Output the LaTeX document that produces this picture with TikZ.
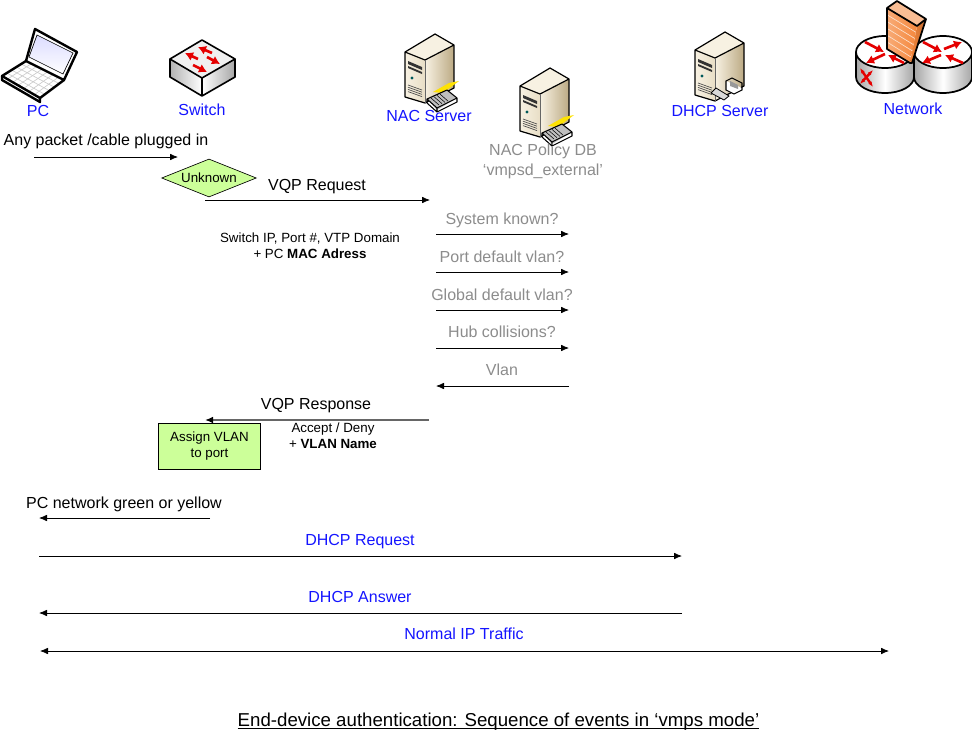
\documentclass[tikz,border=0pt]{standalone}
\usepackage{fontspec}
\setmainfont{Liberation Sans}
\usetikzlibrary{arrows.meta,shapes.geometric}
\definecolor{labelblue}{RGB}{20,20,255}
\definecolor{labelgrey}{RGB}{140,140,140}
\definecolor{notegreen}{RGB}{204,255,153}
\definecolor{servlight}{RGB}{247,241,226}
\definecolor{servmid}{RGB}{232,222,198}
\definecolor{servdark}{RGB}{188,170,132}
\definecolor{brick}{RGB}{245,135,60}
\tikzset{
  lbl/.style={font=\fontsize{12pt}{14pt}\selectfont,inner sep=0pt,align=center},
  lblblue/.style={lbl,text=labelblue},
  lblgrey/.style={lbl,text=labelgrey},
  small/.style={font=\fontsize{10pt}{12pt}\selectfont,inner sep=0pt,align=center},
  msg/.style={-{Latex[length=6pt,width=5pt]},line width=.6pt,black},
  redarrow/.style={-{Latex[length=6pt,width=7pt]},line width=2pt,red!90!black},
  tower/.pic={
    \fill[servlight] (-30,18) -- (0,0) -- (19,11) -- (-10,26) -- cycle;
    \shade[left color=servlight,right color=servmid] (-30,18) -- (-10,26) -- (-10,69) -- (-30,63) -- cycle;
    \shade[left color=servlight,right color=servdark] (-10,26) -- (19,11) -- (19,54) -- (-10,69) -- cycle;
    \draw[line width=.9pt,line join=round] (-30,18) -- (0,0) -- (19,11) -- (19,54) -- (-10,69) -- (-30,63) -- cycle (-30,18) -- (-10,26) -- (19,11);
    \draw[line width=.4pt,black!60] (-10,26) -- (-10,69);
    \fill[black!80] (-27,27) -- (-13,33) -- (-13,36) -- (-27,30) -- cycle (-27,32) -- (-13,38) -- (-13,40) -- (-27,34) -- cycle;
    \fill[teal!70!black] (-23,44) circle (1.6);
    \foreach \i in {0,1,2,3}
      \draw[line width=.5pt,black!70] (-27,51+2.2*\i) -- (-13,56+2.2*\i);
  },
  drive/.pic={
    \fill[yellow!85!orange] (-2,-7) -- (14,-16) -- (24,-18) -- (8,-6) -- cycle;
    \fill[black!25] (-8,0) -- (12,-9) -- (22,-1) -- (2,11) -- cycle;
    \draw[line width=.8pt,line join=round] (-8,0) -- (12,-9) -- (22,-1) -- (22,3) -- (2,13) -- (-8,4) -- cycle (-8,0) -- (2,9) -- (22,-1) (2,9) -- (2,13);
    \foreach \i in {0,1,2,3}
      \draw[line width=.4pt] (-4+3*\i,-1-1.3*\i) -- (4+3*\i,6-1.3*\i);
  },
  rtr/.pic={
    \shade[left color=black!35,right color=black!35,middle color=white] (-29,0) -- (-29,25) arc (180:0:29 and 16) -- (29,0) -- cycle;
    \fill[white] (0,0) ellipse (29 and 16);
    \draw[line width=1.3pt] (-29,0) -- (-29,25) arc (180:0:29 and 16) -- (29,0);
    \draw[line width=1.3pt] (0,0) ellipse (29 and 16);
  }
}
\begin{document}
\begin{tikzpicture}[x=.75pt,y=-.75pt]
\useasboundingbox (0,0) rectangle (972,732);

% laptop
\fill[white] (26,61) -- (1,76) -- (40,98) -- (64,80) -- cycle;
\foreach \i in {1,2,3,4}
  \draw[black!20,line width=.5pt] (26-4.8*\i,61+3*\i) -- (64-4.8*\i,80+3.6*\i);
\foreach \i in {1,2,3,4,5,6}
  \draw[black!20,line width=.5pt] (26+5.4*\i,61+2.7*\i) -- (2+5.4*\i,76+3.1*\i);
\draw[line width=1.8pt,line join=round] (26,61) -- (35,29) -- (77,52) -- (64,80) -- cycle;
\shade[top color=blue!14,bottom color=white,draw=black,line width=.5pt] (37,35) -- (73,53) -- (63,74) -- (29,57) -- cycle;
\draw[line width=1.8pt,line join=round] (26,61) -- (2,76) -- (40,98) -- (64,80);
\draw[line width=1.8pt,line join=round] (2,76) -- (2,80) -- (40,102) -- (40,98);
\node[lblblue] (pc) at (38,111) {PC};

% switch
\shade[left color=black!30,right color=white] (170,59) -- (202,78) -- (202,96) -- (170,77) -- cycle;
\shade[left color=white,right color=black!35] (202,78) -- (235,59) -- (235,77) -- (202,96) -- cycle;
\fill[black!6] (202,40) -- (235,59) -- (202,78) -- (170,59) -- cycle;
\draw[line width=1.2pt,line join=round] (202,40) -- (235,59) -- (235,77) -- (202,96) -- (170,77) -- (170,59) -- cycle (170,59) -- (202,78) -- (235,59) (202,78) -- (202,96);
\draw[redarrow] (212,53) -- (198,47);
\draw[redarrow] (198,59) -- (185,53);
\draw[redarrow] (207,57) -- (220,64);
\draw[redarrow] (193,65) -- (207,72);
\node[lblblue] (switch) at (202,110) {Switch};

% servers
\pic at (435,34) {tower};
\pic at (435,99) {drive};
\node[lblblue] (nac) at (429,116) {NAC Server};
\pic at (550,68) {tower};
\pic at (550,133) {drive};
\node[lblgrey] (policy) at (543,161) {NAC Policy DB\\[1pt]‘vmpsd\_external’};
\pic at (725,32) {tower};
% small pc beside the dhcp tower
\fill[black!15] (716,88) -- (729,96) -- (724,100) -- (711,93) -- cycle;
\draw[line width=.6pt] (716,88) -- (729,96) -- (724,100) -- (711,93) -- cycle;
\fill[white] (726,81) -- (742,88) -- (736,95) -- (726,91) -- cycle;
\draw[line width=.8pt] (726,81) -- (732,78) -- (742,83) -- (742,90) -- (734,94) -- (726,90) -- cycle;
\fill[black!40] (730,81) -- (738,85) -- (738,89) -- (730,86) -- cycle;
\node[lblblue] (dhcp) at (720,111) {DHCP Server};

% network
\pic at (885,52) {rtr};
\pic at (943,52) {rtr};
\draw[redarrow] (865,42) -- (884,52);
\draw[redarrow] (885,54) -- (866,63);
\draw[redarrow] (904,63) -- (888,55);
\draw[redarrow] (923,42) -- (942,52);
\draw[redarrow] (944,49) -- (962,42);
\draw[redarrow] (963,63) -- (945,55);
\draw[redarrow] (941,55) -- (922,63);
\draw[red!90!black,line width=1.8pt,{Latex[length=4pt]}-{Latex[length=4pt]}] (860,68) -- (873,87);
\draw[red!90!black,line width=1.8pt,{Latex[length=4pt]}-{Latex[length=4pt]}] (873,70) -- (860,84);
\fill[brick!55!white] (887,8) -- (897,1) -- (926,19) -- (917,26) -- cycle;
\shade[left color=brick,right color=brick!80!black] (917,26) -- (926,19) -- (912,63) -- (910,63) -- cycle;
\shade[left color=brick!70!white,right color=brick] (887,8) -- (917,26) -- (910,63) -- (887,49) -- cycle;
\foreach \i in {1,2,3,4,5}
  \draw[white!75!brick,line width=.5pt] (887,8+6.8*\i) -- (917-1.2*\i,26+6.2*\i);
\draw[line width=1.3pt,line join=round] (887,8) -- (897,1) -- (926,19) -- (912,63) -- (910,63) -- (887,49) -- cycle (887,8) -- (917,26) -- (926,19);
\node[lblblue] (net) at (913,109) {Network};

% first exchange
\node[lbl] (plug) at (106,141) {Any packet /cable plugged in};
\coordinate (plugA) at (34,157);
\coordinate (plugB) at (178,157);
\draw[msg] (plugA) -- (plugB);
\node[diamond,draw=black,fill=notegreen,line width=.5pt,minimum width=71pt,minimum height=28.5pt,inner sep=0pt,aspect=2.5,font=\fontsize{10pt}{12pt}\selectfont] (unknown) at (209,178) {Unknown};
\node[lbl] (vqpreq) at (317,187) {VQP Request};
\coordinate (reqA) at (205,200);
\coordinate (reqB) at (430,200);
\draw[msg] (reqA) -- (reqB);
\node[small] (reqnote) at (310,246) {Switch IP, Port \#, VTP Domain\\+ PC \textbf{MAC Adress}};

% policy lookups
\node[lblgrey] (known) at (502,220) {System known?};
\coordinate (knownA) at (436,234);
\coordinate (knownB) at (569,234);
\draw[msg] (knownA) -- (knownB);
\node[lblgrey] (portvlan) at (502,257) {Port default vlan?};
\coordinate (portA) at (436,272);
\coordinate (portB) at (569,272);
\draw[msg] (portA) -- (portB);
\node[lblgrey] (globvlan) at (502,295) {Global default vlan?};
\coordinate (globA) at (436,310);
\coordinate (globB) at (569,310);
\draw[msg] (globA) -- (globB);
\node[lblgrey] (hub) at (502,332) {Hub collisions?};
\coordinate (hubA) at (436,348);
\coordinate (hubB) at (569,348);
\draw[msg] (hubA) -- (hubB);
\node[lblgrey] (vlan) at (502,370) {Vlan};
\coordinate (vlanA) at (569,386);
\coordinate (vlanB) at (436,386);
\draw[msg] (vlanA) -- (vlanB);

% response
\node[lbl] (vqpresp) at (316,406) {VQP Response};
\coordinate (respA) at (429,420);
\coordinate (respB) at (205,420);
\draw[-{Latex[length=6pt,width=5pt,black]},black!60,line width=1.1pt] (respA) -- (respB);
\node[small] (respnote) at (333,436) {Accept / Deny\\+ \textbf{VLAN Name}};
\node[draw=black,fill=notegreen,line width=.7pt,minimum width=77pt,minimum height=34.5pt,inner sep=0pt,align=center,font=\fontsize{10pt}{12pt}\selectfont] (assign) at (209.5,446) {Assign VLAN\\to port};

% end device traffic
\node[lbl] (green) at (124,504) {PC network green or yellow};
\coordinate (greenA) at (210,518);
\coordinate (greenB) at (39,518);
\draw[msg] (greenA) -- (greenB);
\node[lblblue] (dhcpreq) at (360,542) {DHCP Request};
\coordinate (dreqA) at (39,556);
\coordinate (dreqB) at (682,556);
\draw[msg] (dreqA) -- (dreqB);
\node[lblblue] (dhcpans) at (360,597) {DHCP Answer};
\coordinate (dansA) at (682,613);
\coordinate (dansB) at (39,613);
\draw[msg] (dansA) -- (dansB);
\node[lblblue] (normal) at (464,634) {Normal IP Traffic};
\coordinate (ipA) at (40,651);
\coordinate (ipB) at (889,651);
\draw[msg,{Latex[length=6pt,width=5pt]}-{Latex[length=6pt,width=5pt]}] (ipA) -- (ipB);

\node[anchor=base,inner sep=0pt,font=\fontsize{14pt}{16pt}\selectfont] (title) at (498.5,726) {\underline{\smash{End-device authentication: Sequence of events in ‘vmps mode’}}};
\end{tikzpicture}
\end{document}
